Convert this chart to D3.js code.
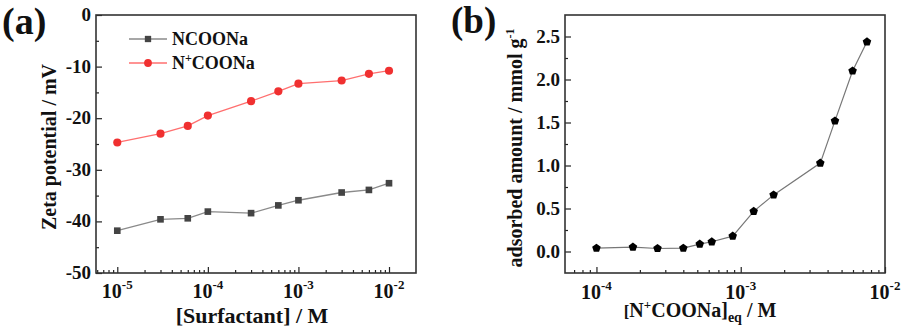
<!DOCTYPE html>
<html><head><meta charset="utf-8">
<script src="https://cdn.jsdelivr.net/npm/d3@7"></script>
<style>body{margin:0;background:#fff}</style></head>
<body><svg id="c" width="905" height="331"></svg>
<script>
// Panel (a) data
const concA = [1e-5, 3e-5, 6e-5, 1e-4, 3e-4, 6e-4, 1e-3, 3e-3, 6e-3, 1e-2];
const zetaNCOONa = [-41.8, -39.6, -39.4, -38.1, -38.4, -36.9, -35.9, -34.4, -33.9, -32.6];
const zetaNpCOONa = [-24.7, -23.0, -21.5, -19.5, -16.7, -14.8, -13.3, -12.7, -11.4, -10.8];
const yTicksA = [0, -10, -20, -30, -40, -50];
const xTicksA = [1e-5, 1e-4, 1e-3, 1e-2];
const xTickExpA = ["-5", "-4", "-3", "-2"];
// Panel (b) data
const concB = [1.0e-4, 1.79e-4, 2.65e-4, 4.0e-4, 5.2e-4, 6.3e-4, 8.8e-4, 1.23e-3, 1.69e-3, 3.56e-3, 4.5e-3, 5.96e-3, 7.5e-3];
const adsorbed = [0.039, 0.051, 0.035, 0.039, 0.086, 0.113, 0.179, 0.467, 0.658, 1.028, 1.519, 2.099, 2.438];
const yTicksB = [0.0, 0.5, 1.0, 1.5, 2.0, 2.5];
const xTicksB = [1e-4, 1e-3, 1e-2];
const xTickExpB = ["-4", "-3", "-2"];

const FONT = "Liberation Serif";
const svg = d3.select("#c");

function minorLog(scale){
  const [a,b] = scale.domain();
  const out = [];
  for (let e = Math.floor(Math.log10(a)); e <= Math.ceil(Math.log10(b)); e++){
    for (let m = 2; m <= 9; m++){ const v = m*Math.pow(10,e); if (v>=a && v<=b) out.push(v); }
  }
  return out;
}

function txt(sel, size){ return sel.append("text").attr("font-family",FONT).attr("font-weight","bold").attr("font-size",size).attr("fill","#111"); }

function panel(opt){
  const g = svg.append("g");
  const x = d3.scaleLog().domain(opt.xDomain).range([opt.left, opt.right]);
  const y = d3.scaleLinear().domain(opt.yDomain).range([opt.bottom, opt.top]);
  const xa = g.append("g").attr("transform", `translate(0,${opt.bottom})`)
    .call(d3.axisBottom(x).tickValues(opt.xTicks).tickSize(-6).tickFormat(""));
  const xm = g.append("g").attr("transform", `translate(0,${opt.bottom})`)
    .call(d3.axisBottom(x).tickValues(minorLog(x)).tickSize(-3).tickFormat(""));
  const ya = g.append("g").attr("transform", `translate(${opt.left},0)`)
    .call(d3.axisLeft(y).tickValues(opt.yTicks).tickSize(-6).tickFormat(""));
  const ym = g.append("g").attr("transform", `translate(${opt.left},0)`)
    .call(d3.axisLeft(y).tickValues(opt.yMinor).tickSize(-3).tickFormat(""));
  [xa,xm,ya,ym].forEach(s=>{ s.select(".domain").remove(); s.selectAll("text").remove(); s.selectAll("line").attr("stroke","#222").attr("stroke-width",1.2); });
  g.append("rect").attr("x",opt.left).attr("y",opt.top).attr("width",opt.right-opt.left).attr("height",opt.bottom-opt.top)
    .attr("fill","none").attr("stroke","#333").attr("stroke-width",1.6);
  opt.xTicks.forEach((v,i)=>{
    const t = txt(g,20).attr("x", x(v)).attr("y", opt.xLabelY).attr("text-anchor","middle");
    t.append("tspan").text("10");
    t.append("tspan").attr("dy",-9).attr("font-size",13).text(opt.xExp[i]);
  });
  opt.yTicks.forEach(v=>{
    txt(g,19).attr("x", opt.left-5).attr("y", y(v)+6).attr("text-anchor","end").text(opt.yFmt(v));
  });
  return {g,x,y};
}

// Panel (a)
const A = panel({left:96,right:416,top:15,bottom:273,xDomain:[Math.pow(10,-5.235),Math.pow(10,-1.702)],yDomain:[-50,0],
  xTicks:xTicksA,xExp:xTickExpA,yTicks:yTicksA,yMinor:[-5,-15,-25,-35,-45],yFmt:d=>String(d),xLabelY:298});
const lineA = d3.line().x((d,i)=>A.x(concA[i])).y(d=>A.y(d));
A.g.append("path").attr("d",lineA(zetaNCOONa)).attr("fill","none").attr("stroke","#8a8a8a").attr("stroke-width",1.3);
A.g.append("path").attr("d",lineA(zetaNpCOONa)).attr("fill","none").attr("stroke","#ff6f6f").attr("stroke-width",1.3);
A.g.selectAll(".sq").data(zetaNCOONa).enter().append("path")
  .attr("transform",(d,i)=>`translate(${A.x(concA[i])},${A.y(d)})`)
  .attr("d",d3.symbol(d3.symbolSquare,44)()).attr("fill","#444");
A.g.selectAll(".ci").data(zetaNpCOONa).enter().append("path")
  .attr("transform",(d,i)=>`translate(${A.x(concA[i])},${A.y(d)})`)
  .attr("d",d3.symbol(d3.symbolCircle,52)()).attr("fill","#f03030");
const leg = [{y:39,line:"#8a8a8a",fill:"#444",sym:d3.symbolSquare,sz:40,lab:["NCOONa"]},
             {y:63,line:"#ff6f6f",fill:"#f03030",sym:d3.symbolCircle,sz:48,lab:["N","+","COONa"]}];
leg.forEach(l=>{
  A.g.append("line").attr("x1",129).attr("x2",167).attr("y1",l.y).attr("y2",l.y).attr("stroke",l.line).attr("stroke-width",1.3);
  A.g.append("path").attr("transform",`translate(148,${l.y})`).attr("d",d3.symbol(l.sym,l.sz)()).attr("fill",l.fill);
  const t = txt(A.g,18).attr("x",172).attr("y",l.y+6);
  if (l.lab.length===1) t.text(l.lab[0]);
  else { t.append("tspan").text(l.lab[0]); t.append("tspan").attr("dy",-7).attr("font-size",12).text(l.lab[1]); t.append("tspan").attr("dy",7).text(l.lab[2]); }
});
txt(A.g,20).attr("transform","translate(56,147) rotate(-90)").attr("text-anchor","middle").text("Zeta potential / mV");
txt(A.g,22).attr("x",252).attr("y",323).attr("text-anchor","middle").text("[Surfactant] / M");
txt(svg,38).attr("x",2).attr("y",34).text("(a)");

// Panel (b)
const B = panel({left:565,right:885,top:15,bottom:273,xDomain:[Math.pow(10,-4.218),1e-2],yDomain:[-0.25,2.75],
  xTicks:xTicksB,xExp:xTickExpB,yTicks:yTicksB,yMinor:[0.25,0.75,1.25,1.75,2.25],yFmt:d3.format(".1f"),xLabelY:299});
const lineB = d3.line().x((d,i)=>B.x(concB[i])).y(d=>B.y(d));
B.g.append("path").attr("d",lineB(adsorbed)).attr("fill","none").attr("stroke","#777").attr("stroke-width",1.2);
const pentagon = {draw(ctx,size){ const r=Math.sqrt(size/2.38); for(let k=0;k<5;k++){ const a=-Math.PI/2+k*2*Math.PI/5; const px=r*Math.cos(a), py=r*Math.sin(a); k?ctx.lineTo(px,py):ctx.moveTo(px,py);} ctx.closePath(); }};
B.g.selectAll(".pt").data(adsorbed).enter().append("path")
  .attr("transform",(d,i)=>`translate(${B.x(concB[i])},${B.y(d)})`)
  .attr("d",d3.symbol(pentagon,48)()).attr("fill","#000");
const yt = txt(B.g,20).attr("transform","translate(522,148) rotate(-90)").attr("text-anchor","middle");
yt.append("tspan").text("adsorbed amount / mmol g");
yt.append("tspan").attr("dy",-8).attr("font-size",12).text("-1");
const xt = txt(B.g,20).attr("x",700).attr("y",317).attr("text-anchor","middle");
xt.append("tspan").attr("font-size",17).text("[");
xt.append("tspan").text("N");
xt.append("tspan").attr("dy",-8).attr("font-size",13).text("+");
xt.append("tspan").attr("dy",8).text("COONa]");
xt.append("tspan").attr("dy",5).attr("font-size",14).text("eq");
xt.append("tspan").attr("dy",-5).text(" / M");
txt(svg,37).attr("x",451).attr("y",33).text("(b)");
</script></body></html>
